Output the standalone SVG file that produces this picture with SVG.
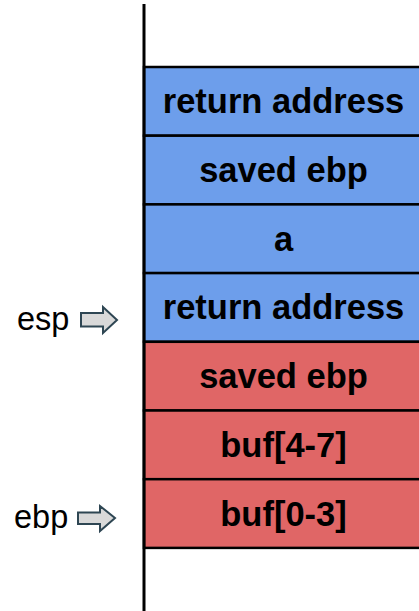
<svg xmlns="http://www.w3.org/2000/svg" width="419" height="611" viewBox="0 0 419 611">
<style>
.cell{stroke:#000;stroke-width:2.5}
.blue{fill:#6d9eeb}
.red{fill:#e06666}
.lbl{font-family:"Liberation Sans",Arial,sans-serif;font-weight:bold;font-size:34.5px;fill:#000;text-anchor:middle}
.ptr{font-family:"Liberation Sans",Arial,sans-serif;font-size:32.5px;fill:#000}
.arr{fill:#d9d9d9;stroke:#2e4653;stroke-width:2;stroke-linejoin:miter}
</style>
<rect width="419" height="611" fill="#fff"/>
<g id="row1"><rect class="cell blue" x="144" y="67" width="285" height="68.7"/><text class="lbl" x="283.5" y="113">return address</text></g>
<g id="row2"><rect class="cell blue" x="144" y="135.7" width="285" height="68.7"/><text class="lbl" x="283.5" y="182">saved ebp</text></g>
<g id="row3"><rect class="cell blue" x="144" y="204.4" width="285" height="68.7"/><text class="lbl" x="283.5" y="250.5">a</text></g>
<g id="row4"><rect class="cell blue" x="144" y="273.1" width="285" height="68.7"/><text class="lbl" x="283.5" y="319">return address</text></g>
<g id="row5"><rect class="cell red" x="144" y="341.8" width="285" height="68.7"/><text class="lbl" x="283.5" y="388">saved ebp</text></g>
<g id="row6"><rect class="cell red" x="144" y="410.5" width="285" height="68.7"/><text class="lbl" x="283.5" y="457">buf[4-7]</text></g>
<g id="row7"><rect class="cell red" x="144" y="479.2" width="285" height="68.7"/><text class="lbl" x="283.5" y="526">buf[0-3]</text></g>
<g id="stack-axis"><line x1="144" y1="4" x2="144" y2="611" stroke="#000" stroke-width="3"/></g>
<g id="esp"><text class="ptr" x="17" y="330">esp</text></g>
<g id="ebp"><text class="ptr" x="14" y="528">ebp</text></g>
<g id="connectors">
<path class="arr" d="M81,313 H103 V307 L117,320 L103,333 V326.5 H81 Z"/>
<path class="arr" d="M78,512.5 H100 V506 L115,518 L100,531 V524 H78 Z"/>
</g>
</svg>
